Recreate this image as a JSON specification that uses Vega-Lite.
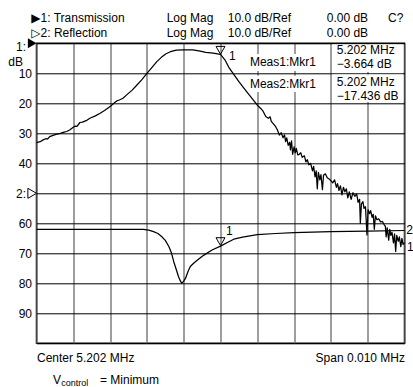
{
  "$schema": "https://vega.github.io/schema/vega-lite/v6.json",
  "width": 368,
  "height": 300,
  "autosize": {"type": "none"},
  "padding": {"left": 36.5, "top": 43.3, "right": 8.5, "bottom": 43.7},
  "background": "white",
  "resolve": {"axis": {"x": "independent", "y": "independent"}},
  "config": {
    "font": "Liberation Sans, DejaVu Sans, sans-serif",
    "view": {"stroke": "#000", "strokeWidth": 1.5},
    "text": {"fontSize": 12, "color": "#000"}
  },
  "datasets": {
    "traces": [
      {"trace": "Transmission", "f": 5.19700, "level": 33.1},
      {"trace": "Transmission", "f": 5.19710, "level": 32.8},
      {"trace": "Transmission", "f": 5.19718, "level": 32.2},
      {"trace": "Transmission", "f": 5.19725, "level": 31.8},
      {"trace": "Transmission", "f": 5.19730, "level": 31.9},
      {"trace": "Transmission", "f": 5.19736, "level": 31.1},
      {"trace": "Transmission", "f": 5.19745, "level": 30.7},
      {"trace": "Transmission", "f": 5.19755, "level": 30.3},
      {"trace": "Transmission", "f": 5.19765, "level": 30.0},
      {"trace": "Transmission", "f": 5.19775, "level": 29.6},
      {"trace": "Transmission", "f": 5.19782, "level": 29.4},
      {"trace": "Transmission", "f": 5.19790, "level": 28.9},
      {"trace": "Transmission", "f": 5.19800, "level": 28.0},
      {"trace": "Transmission", "f": 5.19805, "level": 27.6},
      {"trace": "Transmission", "f": 5.19810, "level": 27.7},
      {"trace": "Transmission", "f": 5.19818, "level": 26.4},
      {"trace": "Transmission", "f": 5.19825, "level": 26.3},
      {"trace": "Transmission", "f": 5.19835, "level": 25.8},
      {"trace": "Transmission", "f": 5.19845, "level": 25.0},
      {"trace": "Transmission", "f": 5.19860, "level": 24.2},
      {"trace": "Transmission", "f": 5.19873, "level": 23.3},
      {"trace": "Transmission", "f": 5.19885, "level": 22.4},
      {"trace": "Transmission", "f": 5.19900, "level": 21.1},
      {"trace": "Transmission", "f": 5.19910, "level": 20.0},
      {"trace": "Transmission", "f": 5.19918, "level": 19.2},
      {"trace": "Transmission", "f": 5.19925, "level": 18.9},
      {"trace": "Transmission", "f": 5.19935, "level": 18.3},
      {"trace": "Transmission", "f": 5.19945, "level": 17.2},
      {"trace": "Transmission", "f": 5.19960, "level": 15.6},
      {"trace": "Transmission", "f": 5.19973, "level": 13.9},
      {"trace": "Transmission", "f": 5.19987, "level": 12.0},
      {"trace": "Transmission", "f": 5.20000, "level": 10.0},
      {"trace": "Transmission", "f": 5.20014, "level": 8.0},
      {"trace": "Transmission", "f": 5.20027, "level": 6.1},
      {"trace": "Transmission", "f": 5.20040, "level": 4.6},
      {"trace": "Transmission", "f": 5.20052, "level": 3.5},
      {"trace": "Transmission", "f": 5.20064, "level": 2.8},
      {"trace": "Transmission", "f": 5.20080, "level": 2.3},
      {"trace": "Transmission", "f": 5.20100, "level": 2.2},
      {"trace": "Transmission", "f": 5.20125, "level": 2.2},
      {"trace": "Transmission", "f": 5.20145, "level": 2.6},
      {"trace": "Transmission", "f": 5.20160, "level": 3.0},
      {"trace": "Transmission", "f": 5.20180, "level": 3.3},
      {"trace": "Transmission", "f": 5.20200, "level": 3.66},
      {"trace": "Transmission", "f": 5.20212, "level": 5.5},
      {"trace": "Transmission", "f": 5.20224, "level": 8.3},
      {"trace": "Transmission", "f": 5.20237, "level": 10.5},
      {"trace": "Transmission", "f": 5.20250, "level": 12.8},
      {"trace": "Transmission", "f": 5.20264, "level": 15.0},
      {"trace": "Transmission", "f": 5.20278, "level": 17.2},
      {"trace": "Transmission", "f": 5.20290, "level": 19.0},
      {"trace": "Transmission", "f": 5.20300, "level": 20.6},
      {"trace": "Transmission", "f": 5.20310, "level": 21.8},
      {"trace": "Transmission", "f": 5.20315, "level": 22.5},
      {"trace": "Transmission", "f": 5.20323, "level": 24.4},
      {"trace": "Transmission", "f": 5.20330, "level": 25.0},
      {"trace": "Transmission", "f": 5.20335, "level": 24.5},
      {"trace": "Transmission", "f": 5.20338, "level": 26.0},
      {"trace": "Transmission", "f": 5.20345, "level": 27.0},
      {"trace": "Transmission", "f": 5.20350, "level": 27.8},
      {"trace": "Transmission", "f": 5.20355, "level": 29.0},
      {"trace": "Transmission", "f": 5.20360, "level": 30.6},
      {"trace": "Transmission", "f": 5.20365, "level": 29.8},
      {"trace": "Transmission", "f": 5.20370, "level": 31.5},
      {"trace": "Transmission", "f": 5.20374, "level": 30.5},
      {"trace": "Transmission", "f": 5.20377, "level": 32.8},
      {"trace": "Transmission", "f": 5.20380, "level": 31.5},
      {"trace": "Transmission", "f": 5.20384, "level": 34.0},
      {"trace": "Transmission", "f": 5.20388, "level": 33.0},
      {"trace": "Transmission", "f": 5.20390, "level": 35.5},
      {"trace": "Transmission", "f": 5.20393, "level": 32.5},
      {"trace": "Transmission", "f": 5.20396, "level": 37.0},
      {"trace": "Transmission", "f": 5.20400, "level": 34.5},
      {"trace": "Transmission", "f": 5.20403, "level": 36.5},
      {"trace": "Transmission", "f": 5.20406, "level": 35.0},
      {"trace": "Transmission", "f": 5.20410, "level": 37.2},
      {"trace": "Transmission", "f": 5.20414, "level": 37.0},
      {"trace": "Transmission", "f": 5.20418, "level": 36.5},
      {"trace": "Transmission", "f": 5.20422, "level": 38.0},
      {"trace": "Transmission", "f": 5.20428, "level": 37.5},
      {"trace": "Transmission", "f": 5.20432, "level": 39.5},
      {"trace": "Transmission", "f": 5.20436, "level": 38.8},
      {"trace": "Transmission", "f": 5.20440, "level": 40.5},
      {"trace": "Transmission", "f": 5.20445, "level": 40.0},
      {"trace": "Transmission", "f": 5.20450, "level": 42.5},
      {"trace": "Transmission", "f": 5.20453, "level": 41.0},
      {"trace": "Transmission", "f": 5.20457, "level": 44.5},
      {"trace": "Transmission", "f": 5.20460, "level": 42.5},
      {"trace": "Transmission", "f": 5.20463, "level": 48.5},
      {"trace": "Transmission", "f": 5.20466, "level": 43.0},
      {"trace": "Transmission", "f": 5.20470, "level": 45.5},
      {"trace": "Transmission", "f": 5.20473, "level": 43.8},
      {"trace": "Transmission", "f": 5.20477, "level": 48.8},
      {"trace": "Transmission", "f": 5.20480, "level": 44.0},
      {"trace": "Transmission", "f": 5.20485, "level": 43.5},
      {"trace": "Transmission", "f": 5.20490, "level": 44.8},
      {"trace": "Transmission", "f": 5.20495, "level": 45.2},
      {"trace": "Transmission", "f": 5.20500, "level": 45.8},
      {"trace": "Transmission", "f": 5.20505, "level": 46.5},
      {"trace": "Transmission", "f": 5.20510, "level": 45.5},
      {"trace": "Transmission", "f": 5.20515, "level": 48.0},
      {"trace": "Transmission", "f": 5.20518, "level": 46.8},
      {"trace": "Transmission", "f": 5.20522, "level": 49.0},
      {"trace": "Transmission", "f": 5.20526, "level": 47.5},
      {"trace": "Transmission", "f": 5.20530, "level": 50.5},
      {"trace": "Transmission", "f": 5.20534, "level": 48.0},
      {"trace": "Transmission", "f": 5.20538, "level": 49.5},
      {"trace": "Transmission", "f": 5.20542, "level": 48.5},
      {"trace": "Transmission", "f": 5.20546, "level": 51.5},
      {"trace": "Transmission", "f": 5.20550, "level": 49.5},
      {"trace": "Transmission", "f": 5.20555, "level": 52.0},
      {"trace": "Transmission", "f": 5.20560, "level": 49.8},
      {"trace": "Transmission", "f": 5.20565, "level": 51.0},
      {"trace": "Transmission", "f": 5.20570, "level": 50.2},
      {"trace": "Transmission", "f": 5.20574, "level": 53.0},
      {"trace": "Transmission", "f": 5.20578, "level": 52.0},
      {"trace": "Transmission", "f": 5.20580, "level": 60.0},
      {"trace": "Transmission", "f": 5.20583, "level": 53.5},
      {"trace": "Transmission", "f": 5.20587, "level": 52.8},
      {"trace": "Transmission", "f": 5.20590, "level": 55.0},
      {"trace": "Transmission", "f": 5.20594, "level": 54.5},
      {"trace": "Transmission", "f": 5.20598, "level": 63.9},
      {"trace": "Transmission", "f": 5.20601, "level": 55.5},
      {"trace": "Transmission", "f": 5.20605, "level": 56.8},
      {"trace": "Transmission", "f": 5.20608, "level": 55.8},
      {"trace": "Transmission", "f": 5.20612, "level": 58.0},
      {"trace": "Transmission", "f": 5.20615, "level": 57.0},
      {"trace": "Transmission", "f": 5.20618, "level": 62.0},
      {"trace": "Transmission", "f": 5.20621, "level": 57.5},
      {"trace": "Transmission", "f": 5.20625, "level": 58.8},
      {"trace": "Transmission", "f": 5.20630, "level": 58.5},
      {"trace": "Transmission", "f": 5.20635, "level": 59.5},
      {"trace": "Transmission", "f": 5.20640, "level": 59.4},
      {"trace": "Transmission", "f": 5.20645, "level": 60.5},
      {"trace": "Transmission", "f": 5.20648, "level": 61.0},
      {"trace": "Transmission", "f": 5.20650, "level": 64.5},
      {"trace": "Transmission", "f": 5.20653, "level": 61.5},
      {"trace": "Transmission", "f": 5.20657, "level": 65.6},
      {"trace": "Transmission", "f": 5.20660, "level": 62.0},
      {"trace": "Transmission", "f": 5.20663, "level": 64.0},
      {"trace": "Transmission", "f": 5.20666, "level": 63.0},
      {"trace": "Transmission", "f": 5.20670, "level": 66.5},
      {"trace": "Transmission", "f": 5.20673, "level": 63.5},
      {"trace": "Transmission", "f": 5.20676, "level": 69.4},
      {"trace": "Transmission", "f": 5.20679, "level": 64.0},
      {"trace": "Transmission", "f": 5.20683, "level": 66.0},
      {"trace": "Transmission", "f": 5.20686, "level": 64.5},
      {"trace": "Transmission", "f": 5.20690, "level": 67.8},
      {"trace": "Transmission", "f": 5.20693, "level": 65.0},
      {"trace": "Transmission", "f": 5.20696, "level": 67.0},
      {"trace": "Transmission", "f": 5.20700, "level": 66.5},
      {"trace": "Reflection", "f": 5.19700, "level": 62.0},
      {"trace": "Reflection", "f": 5.19800, "level": 62.0},
      {"trace": "Reflection", "f": 5.19900, "level": 62.0},
      {"trace": "Reflection", "f": 5.19990, "level": 62.0},
      {"trace": "Reflection", "f": 5.20005, "level": 62.3},
      {"trace": "Reflection", "f": 5.20018, "level": 62.8},
      {"trace": "Reflection", "f": 5.20030, "level": 63.4},
      {"trace": "Reflection", "f": 5.20040, "level": 64.4},
      {"trace": "Reflection", "f": 5.20050, "level": 65.7},
      {"trace": "Reflection", "f": 5.20060, "level": 67.8},
      {"trace": "Reflection", "f": 5.20067, "level": 70.0},
      {"trace": "Reflection", "f": 5.20073, "level": 72.8},
      {"trace": "Reflection", "f": 5.20080, "level": 75.5},
      {"trace": "Reflection", "f": 5.20086, "level": 77.8},
      {"trace": "Reflection", "f": 5.20091, "level": 79.2},
      {"trace": "Reflection", "f": 5.20095, "level": 80.0},
      {"trace": "Reflection", "f": 5.20100, "level": 79.3},
      {"trace": "Reflection", "f": 5.20105, "level": 78.3},
      {"trace": "Reflection", "f": 5.20112, "level": 76.0},
      {"trace": "Reflection", "f": 5.20118, "level": 74.4},
      {"trace": "Reflection", "f": 5.20122, "level": 73.9},
      {"trace": "Reflection", "f": 5.20127, "level": 73.3},
      {"trace": "Reflection", "f": 5.20140, "level": 72.0},
      {"trace": "Reflection", "f": 5.20155, "level": 70.6},
      {"trace": "Reflection", "f": 5.20177, "level": 68.9},
      {"trace": "Reflection", "f": 5.20200, "level": 67.6},
      {"trace": "Reflection", "f": 5.20220, "level": 66.3},
      {"trace": "Reflection", "f": 5.20236, "level": 65.3},
      {"trace": "Reflection", "f": 5.20260, "level": 64.6},
      {"trace": "Reflection", "f": 5.20300, "level": 63.8},
      {"trace": "Reflection", "f": 5.20350, "level": 63.4},
      {"trace": "Reflection", "f": 5.20400, "level": 63.1},
      {"trace": "Reflection", "f": 5.20500, "level": 62.8},
      {"trace": "Reflection", "f": 5.20600, "level": 62.6},
      {"trace": "Reflection", "f": 5.20700, "level": 62.4}
    ],
    "markers": [
      {"trace": "Transmission", "f": 5.202, "level": 3.664},
      {"trace": "Reflection", "f": 5.202, "level": 67.436}
    ]
  },
  "layer": [
    {
      "data": {"name": "traces"},
      "mark": {"type": "line", "color": "#000", "strokeWidth": 1.25, "strokeJoin": "round"},
      "encoding": {
        "x": {
          "field": "f", "type": "quantitative",
          "scale": {"domain": [5.197, 5.207], "nice": false, "zero": false},
          "axis": {
            "title": null,
            "values": [5.197, 5.198, 5.199, 5.2, 5.201, 5.202, 5.203, 5.204, 5.205, 5.206, 5.207],
            "grid": true, "gridColor": "#6a6a6a", "gridWidth": 1.3,
            "domain": false, "ticks": false, "tickSize": 0,
            "labelExpr": "datum.value < 5.1975 ? 'Center 5.202 MHz' : (datum.value > 5.2065 ? 'Span 0.010 MHz' : '')",
            "labelFlush": true, "labelOverlap": false,
            "labelPadding": 9.5, "labelFontSize": 12, "labelColor": "#000"
          }
        },
        "y": {
          "field": "level", "type": "quantitative",
          "scale": {"domain": [0, 100], "reverse": true, "nice": false, "zero": false},
          "axis": {
            "title": null,
            "values": [0, 10, 20, 30, 40, 50, 60, 70, 80, 90, 100],
            "grid": true, "gridColor": "#000", "gridWidth": 1,
            "domain": false, "ticks": false, "tickSize": 0,
            "labelExpr": "datum.value == 0 || datum.value == 50 || datum.value == 100 ? '' : datum.label",
            "labelOverlap": false, "labelFlush": false,
            "labelPadding": 5, "labelFontSize": 12, "labelColor": "#000"
          }
        },
        "detail": {"field": "trace"}
      }
    },
    {
      "data": {"values": [{}]},
      "mark": {"type": "rect", "color": "white"},
      "encoding": {
        "x": {"datum": 5.20503, "type": "quantitative", "axis": null}, "x2": {"datum": 5.20697},
        "y": {"datum": 0.4, "type": "quantitative", "axis": null}, "y2": {"datum": 9.6}
      }
    },
    {
      "data": {"values": [{}]},
      "mark": {"type": "rect", "color": "white"},
      "encoding": {
        "x": {"datum": 5.20503, "type": "quantitative", "axis": null}, "x2": {"datum": 5.20697},
        "y": {"datum": 10.4, "type": "quantitative", "axis": null}, "y2": {"datum": 19.6}
      }
    },
    {
      "data": {"values": [{}]},
      "mark": {"type": "rect", "color": "white"},
      "encoding": {
        "x": {"datum": 5.2028, "type": "quantitative", "axis": null}, "x2": {"datum": 5.2047},
        "y": {"datum": 3.6, "type": "quantitative", "axis": null}, "y2": {"datum": 9.2}
      }
    },
    {
      "data": {"values": [{}]},
      "mark": {"type": "rect", "color": "white"},
      "encoding": {
        "x": {"datum": 5.2028, "type": "quantitative", "axis": null}, "x2": {"datum": 5.2047},
        "y": {"datum": 10.8, "type": "quantitative", "axis": null}, "y2": {"datum": 16.2}
      }
    },
    {
      "data": {"name": "markers"},
      "mark": {"type": "point", "shape": "triangle-down", "filled": false, "color": "#000", "size": 81, "strokeWidth": 1, "yOffset": -4, "opacity": 1},
      "encoding": {
        "x": {"field": "f", "type": "quantitative", "axis": null},
        "y": {"field": "level", "type": "quantitative", "axis": null}
      }
    },
    {
      "data": {"values": [{}]},
      "mark": {"type": "point", "shape": "triangle-right", "filled": true, "color": "#000", "size": 100, "xOffset": -4.3, "opacity": 1},
      "encoding": {"x": {"datum": 5.197, "type": "quantitative", "axis": null}, "y": {"datum": 0, "type": "quantitative", "axis": null}}
    },
    {
      "data": {"values": [{}]},
      "mark": {"type": "point", "shape": "triangle-right", "filled": false, "color": "#000", "size": 100, "strokeWidth": 1, "xOffset": -4.3, "opacity": 1},
      "encoding": {"x": {"datum": 5.197, "type": "quantitative", "axis": null}, "y": {"datum": 50, "type": "quantitative", "axis": null}}
    },
    {
      "data": {"values": [{}]},
      "mark": {"type": "text", "align": "left", "baseline": "top", "lineHeight": 15},
      "encoding": {"x": {"datum": 5.196859, "type": "quantitative", "axis": null}, "y": {"datum": -10.07, "type": "quantitative", "axis": null}, "text": {"value": ["▶1: Transmission", "▷2: Reflection"]}}
    },
    {
      "data": {"values": [{}]},
      "mark": {"type": "text", "align": "left", "baseline": "top", "lineHeight": 15},
      "encoding": {"x": {"datum": 5.200538, "type": "quantitative", "axis": null}, "y": {"datum": -10.07, "type": "quantitative", "axis": null}, "text": {"value": ["Log Mag", "Log Mag"]}}
    },
    {
      "data": {"values": [{}]},
      "mark": {"type": "text", "align": "left", "baseline": "top", "lineHeight": 15},
      "encoding": {"x": {"datum": 5.202196, "type": "quantitative", "axis": null}, "y": {"datum": -10.07, "type": "quantitative", "axis": null}, "text": {"value": ["10.0 dB/Ref", "10.0 dB/Ref"]}}
    },
    {
      "data": {"values": [{}]},
      "mark": {"type": "text", "align": "left", "baseline": "top", "lineHeight": 15},
      "encoding": {"x": {"datum": 5.204886, "type": "quantitative", "axis": null}, "y": {"datum": -10.07, "type": "quantitative", "axis": null}, "text": {"value": ["0.00 dB", "0.00 dB"]}}
    },
    {
      "data": {"values": [{}]},
      "mark": {"type": "text", "align": "left", "baseline": "top"},
      "encoding": {"x": {"datum": 5.206552, "type": "quantitative", "axis": null}, "y": {"datum": -10.07, "type": "quantitative", "axis": null}, "text": {"value": "C?"}}
    },
    {
      "data": {"values": [{}]},
      "mark": {"type": "text", "align": "left", "baseline": "top", "lineHeight": 14},
      "encoding": {"x": {"datum": 5.205158, "type": "quantitative", "axis": null}, "y": {"datum": 0.5, "type": "quantitative", "axis": null}, "text": {"value": ["5.202 MHz", "−3.664 dB"]}}
    },
    {
      "data": {"values": [{}]},
      "mark": {"type": "text", "align": "left", "baseline": "top", "lineHeight": 14},
      "encoding": {"x": {"datum": 5.205158, "type": "quantitative", "axis": null}, "y": {"datum": 11.07, "type": "quantitative", "axis": null}, "text": {"value": ["5.202 MHz", "−17.436 dB"]}}
    },
    {
      "data": {"values": [{}]},
      "mark": {"type": "text", "align": "left", "baseline": "middle"},
      "encoding": {"x": {"datum": 5.2028, "type": "quantitative", "axis": null}, "y": {"datum": 6.37, "type": "quantitative", "axis": null}, "text": {"value": "Meas1:Mkr1"}}
    },
    {
      "data": {"values": [{}]},
      "mark": {"type": "text", "align": "left", "baseline": "middle"},
      "encoding": {"x": {"datum": 5.2028, "type": "quantitative", "axis": null}, "y": {"datum": 13.47, "type": "quantitative", "axis": null}, "text": {"value": "Meas2:Mkr1"}}
    },
    {
      "data": {"values": [{}]},
      "mark": {"type": "text", "align": "right", "baseline": "middle"},
      "encoding": {"x": {"datum": 5.196715, "type": "quantitative", "axis": null}, "y": {"datum": 1.13, "type": "quantitative", "axis": null}, "text": {"value": "1:"}}
    },
    {
      "data": {"values": [{}]},
      "mark": {"type": "text", "align": "right", "baseline": "middle"},
      "encoding": {"x": {"datum": 5.196633, "type": "quantitative", "axis": null}, "y": {"datum": 6.37, "type": "quantitative", "axis": null}, "text": {"value": "dB"}}
    },
    {
      "data": {"values": [{}]},
      "mark": {"type": "text", "align": "right", "baseline": "middle"},
      "encoding": {"x": {"datum": 5.196715, "type": "quantitative", "axis": null}, "y": {"datum": 50.23, "type": "quantitative", "axis": null}, "text": {"value": "2:"}}
    },
    {
      "data": {"values": [{}]},
      "mark": {"type": "text", "align": "left", "baseline": "middle"},
      "encoding": {"x": {"datum": 5.20705, "type": "quantitative", "axis": null}, "y": {"datum": 62.2, "type": "quantitative", "axis": null}, "text": {"value": "2"}}
    },
    {
      "data": {"values": [{}]},
      "mark": {"type": "text", "align": "left", "baseline": "middle"},
      "encoding": {"x": {"datum": 5.20707, "type": "quantitative", "axis": null}, "y": {"datum": 68.0, "type": "quantitative", "axis": null}, "text": {"value": "1"}}
    },
    {
      "data": {"values": [{}]},
      "mark": {"type": "text", "align": "left", "baseline": "middle"},
      "encoding": {"x": {"datum": 5.202231, "type": "quantitative", "axis": null}, "y": {"datum": 4.13, "type": "quantitative", "axis": null}, "text": {"value": "1"}}
    },
    {
      "data": {"values": [{}]},
      "mark": {"type": "text", "align": "left", "baseline": "middle"},
      "encoding": {"x": {"datum": 5.20215, "type": "quantitative", "axis": null}, "y": {"datum": 62.7, "type": "quantitative", "axis": null}, "text": {"value": "1"}}
    },
    {
      "data": {"values": [{}]},
      "mark": {"type": "text", "align": "left", "baseline": "middle"},
      "encoding": {"x": {"datum": 5.19745, "type": "quantitative", "axis": null}, "y": {"datum": 112.2, "type": "quantitative", "axis": null}, "text": {"value": "V"}}
    },
    {
      "data": {"values": [{}]},
      "mark": {"type": "text", "align": "left", "baseline": "middle", "fontSize": 9},
      "encoding": {"x": {"datum": 5.19767, "type": "quantitative", "axis": null}, "y": {"datum": 113.3, "type": "quantitative", "axis": null}, "text": {"value": "control"}}
    },
    {
      "data": {"values": [{}]},
      "mark": {"type": "text", "align": "left", "baseline": "middle"},
      "encoding": {"x": {"datum": 5.198725, "type": "quantitative", "axis": null}, "y": {"datum": 112.2, "type": "quantitative", "axis": null}, "text": {"value": "= Minimum"}}
    }
  ]
}
